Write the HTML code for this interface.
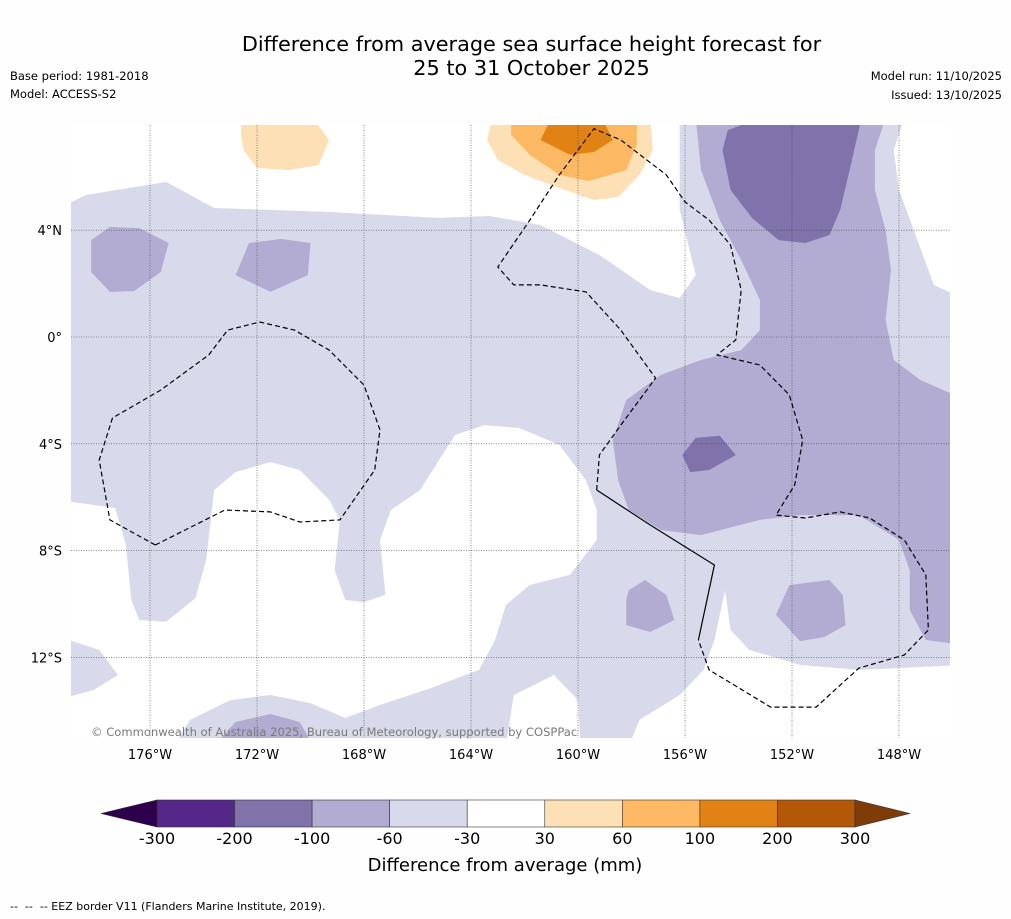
<!DOCTYPE html>
<html><head><meta charset="utf-8">
<style>
body{margin:0;background:#fefefe;font-family:"DejaVu Sans","Liberation Sans",sans-serif;}
#wrap{position:relative;width:1011px;height:919px;overflow:hidden;}
.t{position:absolute;white-space:nowrap;color:#000;}
svg text{font-family:"DejaVu Sans","Liberation Sans",sans-serif;}
</style></head>
<body>
<div id="wrap">
<div class="t" style="left:0;width:1063px;top:32px;text-align:center;font-size:20.8px;line-height:24px;">Difference from average sea surface height forecast for<br>25 to 31 October 2025</div>
<div class="t" style="left:10px;top:69px;font-size:11.5px;">Base period: 1981-2018</div>
<div class="t" style="left:10px;top:87px;font-size:11.5px;">Model: ACCESS-S2</div>
<div class="t" style="right:9px;top:69px;font-size:11.5px;text-align:right;">Model run: 11/10/2025</div>
<div class="t" style="right:9px;top:88px;font-size:11.5px;text-align:right;">Issued: 13/10/2025</div>
<div class="t" style="left:10px;top:900px;font-size:11px;">-- &nbsp;-- &nbsp;-- EEZ border V11 (Flanders Marine Institute, 2019).</div>
<svg id="svg" width="1011" height="919" style="position:absolute;left:0;top:0">
<defs><clipPath id="mc"><rect x="71" y="125" width="879" height="613"/></clipPath></defs>
<g id="map" clip-path="url(#mc)"></g>
<g id="axes"></g>
<g id="cbar"></g>
</svg>
<div class="t" style="left:91px;top:725px;font-size:11.55px;color:#7a7a7a;">© Commonwealth of Australia 2025, Bureau of Meteorology, supported by COSPPac</div>
</div>
<script>
const NS="http://www.w3.org/2000/svg";
// Data (lon in degrees West, lat in degrees)
const lonTicks=[176,172,168,164,160,156,152,148];
const latTicks=[4,0,-4,-8,-12];
const cbLevels=[-300,-200,-100,-60,-30,30,60,100,200,300];
const cbColors=["#542788","#8073ac","#b2abd2","#d8daeb","#ffffff","#fee0b6","#fdb863","#e08214","#b35806"];
const cbUnder="#2d004b", cbOver="#7f3b08";
const lightPoly=[[179.5,4.76],[178.4,5.32],[175.4,5.81],[173.6,4.83],[169.3,4.68],[165.2,4.46],[163.3,4.53],[161.4,4.19],[159.2,3.07],[157.3,1.76],[156.2,1.46],[155.6,2.32],[156.2,4.76],[156.2,8.2],[147.8,8.2],[148.2,7.0],[148.0,5.51],[146.7,1.95],[145.5,1.4],[145.5,-12.28],[149.5,-12.47],[151.7,-12.28],[153.6,-11.72],[154.3,-10.97],[154.5,-9.48],[154.9,-11.35],[155.3,-12.47],[156.2,-13.41],[157.7,-14.34],[158.1,-15.3],[179.5,-15.3]];
const whiteHoleA=[[179.5,-6.1],[177.3,-6.4],[176.9,-7.79],[176.7,-9.85],[176.4,-10.6],[175.4,-10.67],[174.3,-9.78],[173.9,-8.35],[173.6,-5.73],[172.8,-5.06],[171.5,-4.68],[170.4,-4.98],[169.3,-6.1],[168.9,-6.85],[169.1,-8.73],[168.7,-9.85],[168.0,-9.93],[167.2,-9.66],[167.4,-7.6],[167.0,-6.48],[165.9,-5.73],[164.6,-3.67],[163.5,-3.3],[162.2,-3.41],[160.7,-4.04],[159.7,-5.36],[159.3,-6.48],[159.3,-7.6],[160.3,-8.91],[161.8,-9.29],[162.7,-10.04],[163.1,-11.35],[163.7,-12.47],[165.5,-13.15],[167.4,-13.78],[168.7,-14.27],[170.0,-13.71],[171.5,-13.41],[173.0,-13.6],[174.5,-14.34],[175.1,-15.3],[179.5,-15.3]];
const whiteHoleB=[[162.7,-15.3],[162.4,-13.41],[160.9,-12.66],[160.0,-13.6],[159.9,-15.3]];
const leftStrip=[[179.5,-11.2],[177.9,-11.72],[177.2,-12.66],[178.1,-13.22],[179.5,-13.6]];
const midBig=[[155.6,8.2],[155.4,6.25],[154.7,4.38],[153.9,2.88],[153.2,1.39],[153.2,0.26],[153.9,-0.49],[155.4,-0.86],[156.9,-1.42],[158.2,-2.36],[158.7,-3.86],[158.5,-5.36],[158.1,-6.48],[156.9,-7.23],[155.4,-7.42],[153.2,-6.85],[151.7,-6.67],[149.5,-6.67],[148.0,-7.6],[147.6,-8.73],[147.6,-10.22],[147.0,-11.35],[145.5,-11.54],[145.5,-2.36],[147.2,-1.61],[148.2,-0.86],[148.5,0.64],[148.3,2.51],[148.5,4.0],[148.9,5.51],[148.9,7.0],[148.5,8.2]];
const midBlob1=[[178.2,3.63],[177.5,4.12],[176.4,4.08],[175.3,3.52],[175.6,2.43],[176.6,1.72],[177.5,1.69],[178.2,2.43]];
const midBlob2=[[172.3,3.52],[171.1,3.67],[170.0,3.52],[170.1,2.32],[171.5,1.69],[172.8,2.32]];
const midBlob3=[[158.1,-9.48],[157.5,-9.1],[156.7,-9.66],[156.4,-10.6],[157.3,-11.05],[158.2,-10.79],[158.2,-9.85]];
const midBlob4=[[152.1,-9.29],[150.6,-9.1],[150.1,-9.66],[150.0,-10.79],[150.8,-11.24],[151.7,-11.39],[152.6,-10.41]];
const midBlob5=[[173.6,-15.3],[172.8,-14.42],[171.5,-14.12],[170.4,-14.42],[169.9,-15.3]];
const darkBlob1=[[154.4,7.75],[153.2,8.2],[149.4,8.2],[149.8,6.44],[150.2,4.76],[150.6,3.82],[151.5,3.52],[152.5,3.63],[153.5,4.46],[154.3,5.51],[154.6,7.0]];
const darkBlob2=[[156.1,-4.42],[155.6,-3.78],[154.7,-3.7],[154.1,-4.42],[155.1,-4.98],[155.8,-5.06]];
const orangeLight1=[[172.6,8.2],[169.9,8.2],[169.3,7.38],[169.7,6.44],[170.8,6.25],[172.0,6.33],[172.5,7.0],[172.6,7.57]];
const orangeLight2=[[163.2,8.2],[157.3,8.2],[157.2,7.0],[157.7,6.07],[158.5,5.24],[159.4,5.13],[160.7,5.58],[162.0,6.07],[163.0,6.63],[163.4,7.38]];
const orangeMid=[[162.5,8.2],[157.8,8.2],[157.8,7.2],[158.2,6.25],[159.6,5.84],[160.7,6.07],[161.8,6.82],[162.5,7.57]];
const orangeDark=[[161.0,8.2],[159.1,8.2],[158.7,7.38],[159.4,6.93],[160.3,6.82],[161.4,7.38]];
const eezLoop=[[175.8,-7.79],[177.5,-6.85],[177.9,-4.61],[177.4,-3.03],[175.6,-1.99],[173.8,-0.67],[173.1,0.26],[171.9,0.56],[170.6,0.26],[169.3,-0.49],[168.0,-1.8],[167.4,-3.48],[167.6,-4.98],[168.9,-6.85],[170.4,-6.93],[171.5,-6.55],[173.2,-6.48],[175.8,-7.79]];
const eezPhoenix=[[159.3,-5.73],[159.2,-4.42],[158.4,-3.3],[157.1,-1.54],[158.4,0.26],[159.7,1.69],[161.4,1.95],[162.4,1.95],[163.0,2.62],[161.8,4.38],[160.7,6.07],[159.4,7.8],[158.4,7.38],[156.7,6.07],[156.0,5.06],[155.1,4.38],[154.3,3.45],[153.9,1.76],[154.1,-0.11],[154.8,-0.67],[153.2,-1.05],[152.1,-2.17],[151.6,-3.86],[151.9,-5.54],[152.6,-6.67],[151.5,-6.78],[150.2,-6.55],[149.1,-6.78],[147.8,-7.6],[147.0,-8.91],[146.9,-10.97],[147.8,-11.91],[149.5,-12.4],[151.1,-13.86],[152.8,-13.86],[155.1,-12.47],[155.5,-11.35]];
const solidBorder=[[155.5,-11.35],[154.9,-8.54],[157.3,-7.04],[159.3,-5.73]];

// axis functions
function X(w){return 150+(176-w)*26.75;}
function Y(lat){return 337-lat*26.7;}
function pts(a){return a.map(p=>X(p[0]).toFixed(1)+","+Y(p[1]).toFixed(1)).join(" ");}
const map=document.getElementById('map'), axes=document.getElementById('axes'), cb=document.getElementById('cbar');
function poly(parent,data,fill,name){
  const e=document.createElementNS(NS,'polygon');
  e.setAttribute('points',pts(data));e.setAttribute('fill',fill);
  
  
  parent.appendChild(e);return e;
}
function line(parent,data,dash,name){
  const e=document.createElementNS(NS,'polyline');
  e.setAttribute('points',pts(data));e.setAttribute('fill','none');e.setAttribute('stroke','#000');e.setAttribute('stroke-width','1.2');
  if(dash)e.setAttribute('stroke-dasharray','5,3');
  
  
  parent.appendChild(e);
}
const bg=document.createElementNS(NS,'rect');
bg.setAttribute('x',71);bg.setAttribute('y',125);bg.setAttribute('width',879);bg.setAttribute('height',613);bg.setAttribute('fill','#fff');


map.appendChild(bg);
const L=cbColors[3],M=cbColors[2],D=cbColors[1];
poly(map,lightPoly,L,'contour-light-negative');
poly(map,whiteHoleA,'#fff','contour-neutral-a');
poly(map,whiteHoleB,'#fff','contour-neutral-b');
poly(map,leftStrip,L,'contour-light-strip');
[midBig,midBlob1,midBlob2,midBlob3,midBlob4,midBlob5].forEach((d,i)=>poly(map,d,M,'contour-mid-negative'));
[darkBlob1,darkBlob2].forEach(d=>poly(map,d,D,'contour-dark-negative'));
poly(map,orangeLight1,cbColors[5],'contour-light-positive');
poly(map,orangeLight2,cbColors[5],'contour-light-positive');
poly(map,orangeMid,cbColors[6],'contour-mid-positive');
poly(map,orangeDark,cbColors[7],'contour-dark-positive');
// grid
lonTicks.forEach(w=>{
  const l=document.createElementNS(NS,'line');
  l.setAttribute('x1',X(w));l.setAttribute('x2',X(w));l.setAttribute('y1',125);l.setAttribute('y2',738);
  l.setAttribute('stroke','#444');l.setAttribute('stroke-width','0.6');l.setAttribute('stroke-dasharray','1,1.5');
  
  
  map.appendChild(l);
  const t=document.createElementNS(NS,'text');
  t.setAttribute('x',X(w));t.setAttribute('y',759);t.setAttribute('text-anchor','middle');t.setAttribute('font-size','13');
  t.textContent=w+'°W';
  
  
  axes.appendChild(t);
});
latTicks.forEach(v=>{
  const l=document.createElementNS(NS,'line');
  l.setAttribute('x1',71);l.setAttribute('x2',950);l.setAttribute('y1',Y(v));l.setAttribute('y2',Y(v));
  l.setAttribute('stroke','#444');l.setAttribute('stroke-width','0.6');l.setAttribute('stroke-dasharray','1,1.5');
  
  
  map.appendChild(l);
  const t=document.createElementNS(NS,'text');
  t.setAttribute('x',62);t.setAttribute('y',Y(v)+5);t.setAttribute('text-anchor','end');t.setAttribute('font-size','13');
  t.textContent=v===0?'0°':Math.abs(v)+'°'+(v>0?'N':'S');
  
  
  axes.appendChild(t);
});
line(map,eezLoop,true,'eez-border-samoa');
line(map,eezPhoenix,true,'eez-border-phoenix');
line(map,solidBorder,false,'eez-border-solid');
// colorbar
const cbx0=157,cbx1=855,cby=800,cbh=27;
const cw=(cbx1-cbx0)/cbColors.length;
cbColors.forEach((c,i)=>{
  const r=document.createElementNS(NS,'rect');
  r.setAttribute('x',cbx0+i*cw);r.setAttribute('y',cby);r.setAttribute('width',cw);r.setAttribute('height',cbh);
  r.setAttribute('fill',c);r.setAttribute('stroke','#333');r.setAttribute('stroke-width','0.6');
  
  
  cb.appendChild(r);
});
const tu=document.createElementNS(NS,'polygon');
tu.setAttribute('points',`${cbx0},${cby} ${cbx0},${cby+cbh} 101,${cby+cbh/2}`);tu.setAttribute('fill',cbUnder);tu.setAttribute('stroke','#333');tu.setAttribute('stroke-width','0.6');


cb.appendChild(tu);
const to=document.createElementNS(NS,'polygon');
to.setAttribute('points',`${cbx1},${cby} ${cbx1},${cby+cbh} 910,${cby+cbh/2}`);to.setAttribute('fill',cbOver);to.setAttribute('stroke','#333');to.setAttribute('stroke-width','0.6');


cb.appendChild(to);
cbLevels.forEach((v,i)=>{
  const t=document.createElementNS(NS,'text');
  t.setAttribute('x',cbx0+i*cw);t.setAttribute('y',844);t.setAttribute('text-anchor','middle');t.setAttribute('font-size','16');
  t.textContent=v;
  
  
  cb.appendChild(t);
});
const ct=document.createElementNS(NS,'text');
ct.setAttribute('x',505);ct.setAttribute('y',871);ct.setAttribute('text-anchor','middle');ct.setAttribute('font-size','18');
ct.textContent='Difference from average (mm)';


cb.appendChild(ct);
</script>
</body></html>
